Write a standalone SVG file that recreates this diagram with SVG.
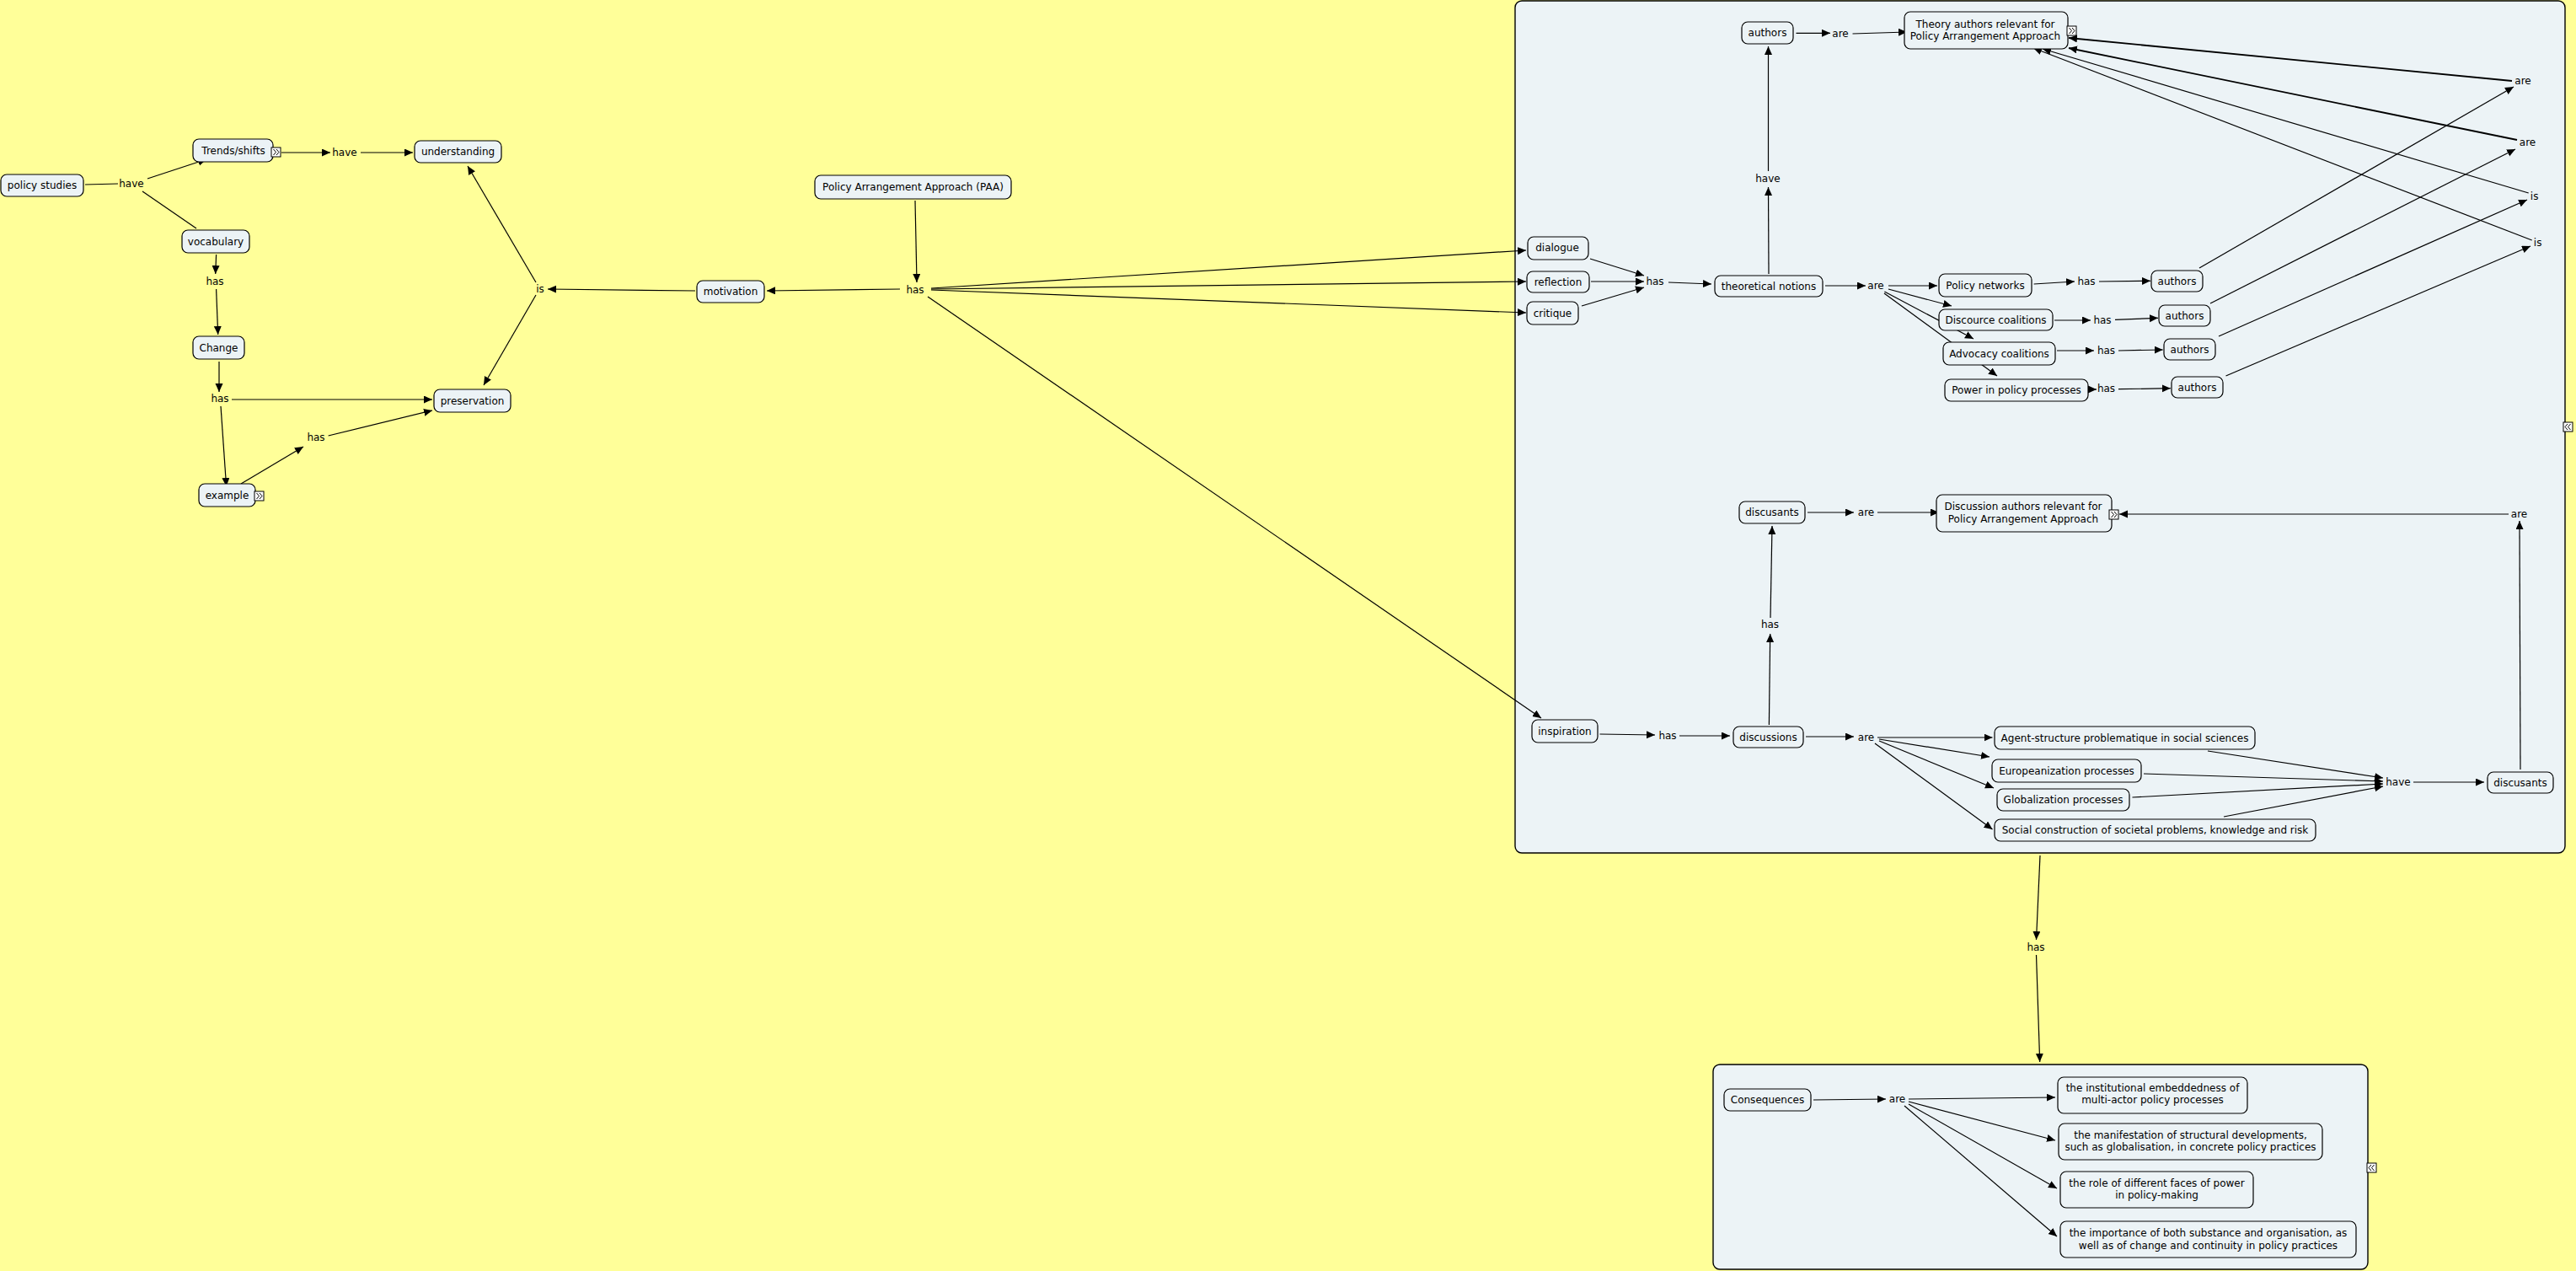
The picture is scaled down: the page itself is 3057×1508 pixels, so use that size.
<svg xmlns="http://www.w3.org/2000/svg" width="3057" height="1508" viewBox="0 0 3057 1508">
<defs>
<style>
.bg{fill:#FFFF99}
.box{fill:#ECF3F6;stroke:#000;stroke-width:1.2}
.cont{fill:#ECF3F6;stroke:#000;stroke-width:1.4}
.t{font-family:"DejaVu Sans","Verdana",sans-serif;font-size:12px;fill:#000;text-anchor:middle}
.c line{stroke:#000;stroke-width:1.2;fill:none}
.a{marker-end:url(#ah)}
.ic{fill:#fff;stroke:#000;stroke-width:1}
.chev{fill:none;stroke:#000;stroke-width:1}
</style>
<marker id="ah" markerUnits="userSpaceOnUse" markerWidth="11" markerHeight="10" refX="10" refY="4.5" orient="auto">
<path d="M0,0 L10,4.5 L0,9 z" fill="#000"/>
</marker>
</defs>
<rect class="bg" x="0" y="0" width="3057" height="1508"/>

<!-- containers -->
<g id="container-top">
<rect class="cont" x="1798" y="1" width="1246" height="1011" rx="8"/>
</g>
<g id="container-bottom">
<rect class="cont" x="2033" y="1263" width="777" height="243" rx="8"/>
</g>

<!-- connectors -->
<g id="connectors" class="c">
<line x1="101" y1="219" x2="140" y2="218"/>
<line class="a" x1="175" y1="212" x2="245" y2="189"/>
<line x1="169" y1="227" x2="233" y2="271"/>
<line class="a" x1="334" y1="181" x2="392" y2="181"/>
<line class="a" x1="428" y1="181" x2="490" y2="181"/>
<line class="a" x1="256.6" y1="302" x2="255.7" y2="325"/>
<line class="a" x1="256.6" y1="343" x2="258.7" y2="397"/>
<line class="a" x1="260" y1="429" x2="260" y2="465"/>
<line class="a" x1="275" y1="474" x2="513" y2="474"/>
<line class="a" x1="262" y1="482" x2="268.6" y2="577"/>
<line class="a" x1="286" y1="574" x2="360" y2="530"/>
<line class="a" x1="389.6" y1="517" x2="513" y2="487"/>
<line class="a" x1="636" y1="335" x2="555" y2="197"/>
<line class="a" x1="636" y1="350" x2="574" y2="457"/>
<line class="a" x1="825" y1="345" x2="650" y2="343"/>
<line class="a" x1="1086" y1="238" x2="1088" y2="335"/>
<line class="a" x1="1068" y1="343" x2="910" y2="345"/>
<line class="a" x1="1105" y1="342" x2="1811" y2="297"/>
<line class="a" x1="1105" y1="343" x2="1811" y2="334"/>
<line class="a" x1="1105" y1="344" x2="1811" y2="371"/>
<line class="a" x1="1101" y1="352" x2="1829" y2="852"/>

<line class="a" x1="2131.5" y1="39.3" x2="2172" y2="39.3"/>
<line class="a" x1="2198.5" y1="40" x2="2263" y2="38"/>
<line class="a" x1="2099" y1="325" x2="2098.5" y2="222"/>
<line class="a" x1="2098.5" y1="203" x2="2098.5" y2="55"/>
<line class="a" x1="1887" y1="307" x2="1951" y2="327"/>
<line class="a" x1="1888" y1="334" x2="1951" y2="334"/>
<line class="a" x1="1877" y1="363" x2="1951" y2="341"/>
<line class="a" x1="1980" y1="335" x2="2031" y2="337"/>
<line class="a" x1="2166" y1="339" x2="2214" y2="339"/>
<line class="a" x1="2241" y1="339" x2="2299" y2="339"/>
<line class="a" x1="2241" y1="343" x2="2316" y2="363"/>
<line class="a" x1="2236.4" y1="346" x2="2342" y2="402"/>
<line class="a" x1="2236" y1="348" x2="2370" y2="446"/>
<line class="a" x1="2413.6" y1="337" x2="2462" y2="334"/>
<line class="a" x1="2438" y1="380" x2="2481" y2="380"/>
<line class="a" x1="2441" y1="416" x2="2485" y2="416"/>
<line class="a" x1="2478" y1="462" x2="2488" y2="462"/>
<line class="a" x1="2491" y1="334" x2="2552" y2="333.3"/>
<line class="a" x1="2510" y1="379.3" x2="2561" y2="377.3"/>
<line class="a" x1="2514" y1="416" x2="2566.7" y2="415"/>
<line class="a" x1="2514" y1="461.7" x2="2575.8" y2="460.7"/>
<line class="a" x1="2610" y1="318" x2="2983" y2="103"/>
<line class="a" x1="2623" y1="360" x2="2985" y2="177"/>
<line class="a" x1="2633" y1="399" x2="2999" y2="237"/>
<line class="a" x1="2641.5" y1="446" x2="3003" y2="292"/>
<line class="a" x1="2981" y1="96" x2="2455" y2="45" style="stroke-width:1.8"/>
<line class="a" x1="2987" y1="166" x2="2455" y2="57" style="stroke-width:1.8"/>
<line class="a" x1="3000.7" y1="229" x2="2424" y2="58"/>
<line class="a" x1="3004.7" y1="285" x2="2413" y2="57"/>

<line class="a" x1="2145" y1="608" x2="2200" y2="608"/>
<line class="a" x1="2228" y1="608" x2="2301" y2="608"/>
<line class="a" x1="2099.4" y1="860" x2="2100.7" y2="752"/>
<line class="a" x1="2101" y1="733" x2="2103" y2="624"/>
<line class="a" x1="1898.5" y1="871" x2="1964" y2="872"/>
<line class="a" x1="1993" y1="873" x2="2053" y2="873"/>
<line class="a" x1="2143" y1="874" x2="2200" y2="874"/>
<line class="a" x1="2228" y1="875" x2="2364.5" y2="875"/>
<line class="a" x1="2230" y1="877" x2="2361" y2="898"/>
<line class="a" x1="2230" y1="879" x2="2366" y2="935"/>
<line class="a" x1="2225" y1="882" x2="2364.5" y2="984"/>
<line class="a" x1="2620" y1="891" x2="2828" y2="923"/>
<line class="a" x1="2544" y1="918" x2="2828" y2="927"/>
<line class="a" x1="2530.5" y1="946" x2="2828" y2="930"/>
<line class="a" x1="2639" y1="969" x2="2828" y2="933"/>
<line class="a" x1="2864" y1="928" x2="2948" y2="928"/>
<line class="a" x1="2991" y1="913" x2="2990" y2="618"/>
<line class="a" x1="2977" y1="610" x2="2515" y2="610"/>

<line class="a" x1="2421" y1="1015" x2="2416.5" y2="1115"/>
<line class="a" x1="2416.5" y1="1133" x2="2420.7" y2="1260"/>
<line class="a" x1="2152" y1="1305" x2="2238" y2="1304"/>
<line class="a" x1="2265" y1="1304" x2="2439" y2="1302"/>
<line class="a" x1="2265" y1="1307" x2="2439" y2="1353"/>
<line class="a" x1="2265" y1="1310" x2="2441" y2="1410"/>
<line class="a" x1="2260" y1="1312" x2="2441" y2="1467"/>
</g>

<!-- left nodes -->
<g id="n-policy-studies"><rect class="box" x="1" y="207" width="98" height="26" rx="7"/><text class="t" x="50" y="224">policy studies</text></g>
<g id="n-trends"><rect class="box" x="229" y="165" width="95" height="27" rx="7"/><text class="t" x="277" y="183">Trends/shifts</text>
<rect class="ic" x="322" y="175" width="11" height="11"/><polyline class="chev" points="324.5,177 327.5,180.5 324.5,184"/><polyline class="chev" points="328,177 331,180.5 328,184"/></g>
<g id="n-understanding"><rect class="box" x="492" y="167" width="103" height="26" rx="7"/><text class="t" x="543.5" y="184">understanding</text></g>
<g id="n-vocabulary"><rect class="box" x="216" y="273" width="80" height="27" rx="7"/><text class="t" x="256" y="290.5">vocabulary</text></g>
<g id="n-change"><rect class="box" x="229" y="399" width="61" height="27" rx="7"/><text class="t" x="259.5" y="416.5">Change</text></g>
<g id="n-preservation"><rect class="box" x="515" y="462" width="91" height="27" rx="7"/><text class="t" x="560.5" y="479.5">preservation</text></g>
<g id="n-example"><rect class="box" x="236" y="574" width="67" height="27" rx="7"/><text class="t" x="269.5" y="591.5">example</text>
<rect class="ic" x="302" y="583" width="11" height="11"/><polyline class="chev" points="304.5,585 307.5,588.5 304.5,592"/><polyline class="chev" points="308,585 311,588.5 308,592"/></g>
<g id="n-motivation"><rect class="box" x="827" y="333" width="80" height="26" rx="7"/><text class="t" x="867" y="350">motivation</text></g>
<g id="n-paa"><rect class="box" x="967" y="208" width="233" height="28" rx="7"/><text class="t" x="1083.5" y="226">Policy Arrangement Approach (PAA)</text></g>

<!-- left linking phrases -->
<g id="lp-have1"><text class="t" x="156" y="222">have</text></g>
<g id="lp-have2"><text class="t" x="409" y="185">have</text></g>
<g id="lp-has1"><text class="t" x="255" y="338">has</text></g>
<g id="lp-has2"><text class="t" x="261" y="477">has</text></g>
<g id="lp-has3"><text class="t" x="375" y="523">has</text></g>
<g id="lp-is"><text class="t" x="641" y="347">is</text></g>
<g id="lp-has-paa"><text class="t" x="1086" y="348">has</text></g>

<!-- upper container nodes -->
<g id="n-authors-top"><rect class="box" x="2067" y="26" width="61" height="26" rx="7"/><text class="t" x="2097.5" y="43">authors</text></g>
<g id="n-theory"><rect class="box" x="2260" y="14" width="194" height="44" rx="7"/><text class="t" x="2356" y="32.5">Theory authors relevant for</text><text class="t" x="2356" y="47">Policy Arrangement Approach</text>
<rect class="ic" x="2453" y="31" width="11" height="11"/><polyline class="chev" points="2455.5,33 2458.5,36.5 2455.5,40"/><polyline class="chev" points="2459,33 2462,36.5 2459,40"/></g>
<g id="n-dialogue"><rect class="box" x="1813" y="281" width="72" height="27" rx="7"/><text class="t" x="1848" y="298">dialogue</text></g>
<g id="n-reflection"><rect class="box" x="1812" y="322" width="74" height="25" rx="7"/><text class="t" x="1849" y="338.5">reflection</text></g>
<g id="n-critique"><rect class="box" x="1812" y="358" width="61" height="27" rx="7"/><text class="t" x="1842.5" y="375.5">critique</text></g>
<g id="n-theoretical"><rect class="box" x="2035" y="327" width="128" height="25" rx="7"/><text class="t" x="2099" y="343.5">theoretical notions</text></g>
<g id="n-policy-networks"><rect class="box" x="2301" y="325" width="110" height="27" rx="7"/><text class="t" x="2356" y="342.5">Policy networks</text></g>
<g id="n-discource"><rect class="box" x="2301" y="367" width="135" height="25" rx="7"/><text class="t" x="2368.5" y="383.5">Discource coalitions</text></g>
<g id="n-advocacy"><rect class="box" x="2306" y="406" width="133" height="27" rx="7"/><text class="t" x="2372.5" y="423.5">Advocacy coalitions</text></g>
<g id="n-power"><rect class="box" x="2308" y="450" width="170" height="26" rx="7"/><text class="t" x="2393" y="467">Power in policy processes</text></g>
<g id="n-authors1"><rect class="box" x="2553" y="321" width="61" height="25" rx="7"/><text class="t" x="2583.5" y="337.5">authors</text></g>
<g id="n-authors2"><rect class="box" x="2562" y="362" width="61" height="25" rx="7"/><text class="t" x="2592.5" y="378.5">authors</text></g>
<g id="n-authors3"><rect class="box" x="2568" y="402" width="61" height="25" rx="7"/><text class="t" x="2598.5" y="418.5">authors</text></g>
<g id="n-authors4"><rect class="box" x="2577" y="447" width="61" height="25" rx="7"/><text class="t" x="2607.5" y="463.5">authors</text></g>

<g id="lp-are-top"><text class="t" x="2184" y="43.5">are</text></g>
<g id="lp-have-tn"><text class="t" x="2098" y="216">have</text></g>
<g id="lp-has-dr"><text class="t" x="1964" y="338">has</text></g>
<g id="lp-are-tn"><text class="t" x="2226" y="343">are</text></g>
<g id="lp-has-pn"><text class="t" x="2476" y="338">has</text></g>
<g id="lp-has-dc"><text class="t" x="2495" y="384">has</text></g>
<g id="lp-has-ac"><text class="t" x="2499.5" y="420">has</text></g>
<g id="lp-has-pw"><text class="t" x="2499.5" y="465">has</text></g>
<g id="lp-are1"><text class="t" x="2994" y="100">are</text></g>
<g id="lp-are2"><text class="t" x="2999.5" y="173">are</text></g>
<g id="lp-is1"><text class="t" x="3007.6" y="237">is</text></g>
<g id="lp-is2"><text class="t" x="3011.6" y="292">is</text></g>

<g id="n-discusants-top"><rect class="box" x="2064" y="595" width="78" height="26" rx="7"/><text class="t" x="2103" y="612">discusants</text></g>
<g id="n-discussion"><rect class="box" x="2298" y="587" width="208" height="44" rx="7"/><text class="t" x="2401" y="605">Discussion authors relevant for</text><text class="t" x="2401" y="619.7">Policy Arrangement Approach</text>
<rect class="ic" x="2503" y="605" width="11" height="11"/><polyline class="chev" points="2505.5,607 2508.5,610.5 2505.5,614"/><polyline class="chev" points="2509,607 2512,610.5 2509,614"/></g>
<g id="n-inspiration"><rect class="box" x="1818" y="854" width="78" height="27" rx="7"/><text class="t" x="1857" y="871.5">inspiration</text></g>
<g id="n-discussions"><rect class="box" x="2057" y="862" width="83" height="25" rx="7"/><text class="t" x="2098.5" y="878.5">discussions</text></g>
<g id="n-agent"><rect class="box" x="2367" y="862" width="309" height="27" rx="7"/><text class="t" x="2521.5" y="879.5">Agent-structure problematique in social sciences</text></g>
<g id="n-europe"><rect class="box" x="2364" y="901" width="177" height="27" rx="7"/><text class="t" x="2452.5" y="918.5">Europeanization processes</text></g>
<g id="n-global"><rect class="box" x="2370" y="936" width="157" height="26" rx="7"/><text class="t" x="2448.5" y="953">Globalization processes</text></g>
<g id="n-social"><rect class="box" x="2367" y="972" width="381" height="26" rx="7"/><text class="t" x="2557.5" y="989">Social construction of societal problems, knowledge and risk</text></g>
<g id="n-discusants-right"><rect class="box" x="2952" y="916" width="78" height="25" rx="7"/><text class="t" x="2991" y="932.5">discusants</text></g>

<g id="lp-are-disc"><text class="t" x="2214.5" y="612.3">are</text></g>
<g id="lp-has-disc"><text class="t" x="2100.5" y="745">has</text></g>
<g id="lp-has-insp"><text class="t" x="1979" y="877">has</text></g>
<g id="lp-are-dn"><text class="t" x="2214.5" y="879">are</text></g>
<g id="lp-have-right"><text class="t" x="2846" y="932">have</text></g>
<g id="lp-are-right"><text class="t" x="2989.5" y="614">are</text></g>

<g id="icon-top-container"><rect class="ic" x="3042" y="501" width="11" height="11"/><polyline class="chev" points="3047,503 3044,506.5 3047,510"/><polyline class="chev" points="3050.5,503 3047.5,506.5 3050.5,510"/></g>

<!-- bottom -->
<g id="lp-has-bottom"><text class="t" x="2416" y="1128">has</text></g>
<g id="n-consequences"><rect class="box" x="2046" y="1292" width="103" height="26" rx="7"/><text class="t" x="2097.5" y="1309">Consequences</text></g>
<g id="lp-are-cons"><text class="t" x="2251.5" y="1308">are</text></g>
<g id="n-institutional"><rect class="box" x="2442" y="1278" width="225" height="43" rx="7"/><text class="t" x="2554.5" y="1294.7">the institutional embeddedness of</text><text class="t" x="2554.5" y="1309.3">multi-actor policy processes</text></g>
<g id="n-manifestation"><rect class="box" x="2443" y="1333" width="313" height="43" rx="7"/><text class="t" x="2599.5" y="1350.7">the manifestation of structural developments,</text><text class="t" x="2599.5" y="1365.3">such as globalisation, in concrete policy practices</text></g>
<g id="n-role"><rect class="box" x="2445" y="1390" width="229" height="43" rx="7"/><text class="t" x="2559.5" y="1408">the role of different faces of power</text><text class="t" x="2559.5" y="1422.3">in policy-making</text></g>
<g id="n-importance"><rect class="box" x="2445" y="1449" width="351" height="43" rx="7"/><text class="t" x="2620.5" y="1466.7">the importance of both substance and organisation, as</text><text class="t" x="2620.5" y="1481.7">well as of change and continuity in policy practices</text></g>
<g id="icon-bottom-container"><rect class="ic" x="2809" y="1380" width="11" height="11"/><polyline class="chev" points="2814,1382 2811,1385.5 2814,1389"/><polyline class="chev" points="2817.5,1382 2814.5,1385.5 2817.5,1389"/></g>
</svg>
